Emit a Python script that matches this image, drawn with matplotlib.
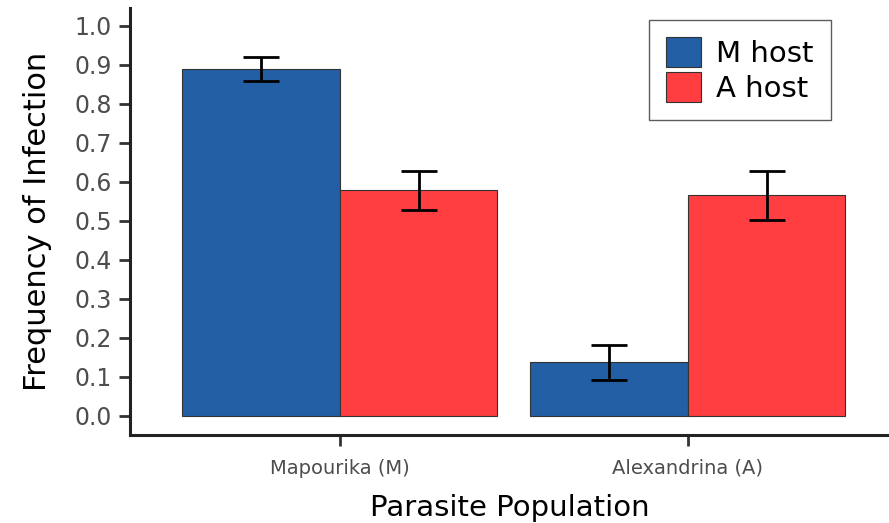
import numpy as np
import matplotlib
matplotlib.use("Agg")
import matplotlib.pyplot as plt

# values
populations = ["Mapourika (M)", "Alexandrina (A)"]
hosts = ["M host", "A host"]
m_host = [0.89, 0.137]
a_host = [0.579, 0.566]
m_host_err = [0.031, 0.044]
a_host_err = [0.05, 0.063]

colors = ["#235FA4", "#FF3E42"]

fig = plt.figure(figsize=(8.89, 5.23), dpi=100)
ax = fig.add_axes([0.1462, 0.1683, 0.8538, 0.8164])

x = np.arange(1, len(populations) + 1)
w = 0.4526

for vals, errs, off, col, lab in [(m_host, m_host_err, -w / 2, colors[0], hosts[0]),
                                  (a_host, a_host_err, w / 2, colors[1], hosts[1])]:
    ax.bar(x + off, vals, width=w, color=col, edgecolor="#333333", linewidth=0.8, label=lab)
    ax.errorbar(x + off, vals, yerr=errs, fmt="none", ecolor="black",
                elinewidth=2, capsize=13, capthick=2)

ax.set_xlim(0.397, 2.578)
ax.set_ylim(-0.049, 1.046)
ax.set_yticks(np.arange(0, 1.01, 0.1))
ax.set_yticklabels([f"{v:.1f}" for v in np.arange(0, 1.01, 0.1)])
ax.set_xticks(x)
ax.set_xticklabels(populations)

for s in ["top", "right"]:
    ax.spines[s].set_visible(False)
for s in ["left", "bottom"]:
    ax.spines[s].set_linewidth(2.2)
    ax.spines[s].set_color("#222222")

ax.tick_params(axis="both", length=8, width=2, color="#333333", labelcolor="#4D4D4D")
ax.tick_params(axis="y", labelsize=17, pad=5)
ax.tick_params(axis="x", labelsize=14, pad=9)

ax.set_ylabel("Frequency of Infection", fontsize=22, labelpad=16)
ax.set_xlabel("Parasite Population", fontsize=21, labelpad=12)

leg = ax.legend(loc="upper right", bbox_to_anchor=(0.9236, 0.972), fontsize=21,
                frameon=True, fancybox=False, edgecolor="#333333",
                handlelength=1.2, handleheight=1.2, handletextpad=0.5,
                labelspacing=0.12, borderpad=0.6, borderaxespad=0)
leg.get_frame().set_linewidth(1)

fig.savefig("out.png", dpi=100)
